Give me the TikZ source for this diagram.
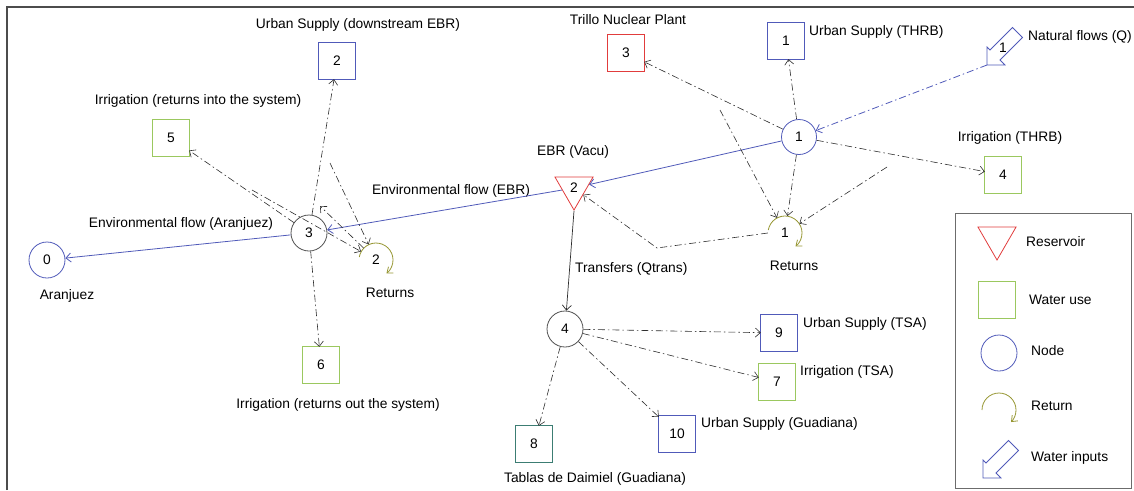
\documentclass[tikz,border=0pt]{standalone}
\usepackage{fontspec}
\setmainfont{Liberation Sans}
\usetikzlibrary{arrows.meta,shapes.geometric}
\definecolor{wblue}{RGB}{80,90,185}
\definecolor{wred}{RGB}{225,60,60}
\definecolor{wgreen}{RGB}{155,200,95}
\definecolor{wolive}{RGB}{150,150,50}
\definecolor{wteal}{RGB}{60,125,115}
\definecolor{wink}{RGB}{45,45,45}
\definecolor{wgrey}{RGB}{80,80,80}
\tikzset{
	use/.style={minimum size=36pt, inner sep=0pt},
	usebox/.style={line width=1pt},
	jn/.style={circle, draw=#1, minimum size=36pt, inner sep=0pt, line width=0.8pt},
	res/.style={regular polygon, regular polygon sides=3, shape border rotate=180, draw=wred, minimum size=44pt, inner sep=0pt, line width=0.8pt},
	retn/.style={circle, minimum size=34pt, inner sep=0pt},
	lbl/.style={inner sep=0pt},
	flow/.style={wink, line width=0.6pt, dash pattern=on 7pt off 3pt on 1.5pt off 3pt, -{Straight Barb[length=5pt,width=9pt]}},
	env/.style={wblue, line width=0.8pt, -{Straight Barb[length=5pt,width=9pt]}},
	ret/.style={wolive, line width=0.8pt, -{Straight Barb[length=5pt,width=8pt]}},
	inflow/.style={wblue, line width=0.8pt, line join=miter}
}
\newcommand{\inarrow}[1]{\draw[inflow] (#1) -- ++(0,-18) -- ++(3,3) -- ++(22.5,-22.5) -- ++(10,10) -- ++(-22.5,22.5) -- ++(5,5) -- cycle;}
\begin{document}
\begin{tikzpicture}[x=1pt, y=-1pt, font=\fontsize{13.8}{16}\selectfont]
	\def \rr{17}
	\useasboundingbox (0,0) rectangle (1134,490);
	\draw[wink!85, line width=1.6pt] (7,490) -- (7,7) -- (1134,7);
	% junctions
	\node[jn=wblue] (n0) at (47,260) {0};
	\node[jn=wgrey] (n3) at (309,233) {3};
	\node[jn=wblue, minimum size=35pt] (n1) at (799,137) {1};
	\node[jn=wgrey] (n4) at (565,329) {4};
	\node[res] (ebr) at (574,188) {2};
	% water uses
	\node[use] (u2) at (337,61) {2};
	\node[use] (i5) at (171,138) {5};
	\node[use] (i6) at (321,365) {6};
	\node[use] (t3) at (626,53) {3};
	\node[use] (u1) at (786,41) {1};
	\node[use] (i4) at (1003,175) {4};
	\node[use] (u9) at (779,333) {9};
	\node[use] (i7) at (777,382) {7};
	\node[use] (u10) at (677,434) {10};
	\node[use] (t8) at (534,444) {8};
	\foreach \n/\c in {u2/wblue,i5/wgreen,i6/wgreen,t3/wred,u1/wblue,i4/wgreen,u9/wblue,i7/wgreen,u10/wblue,t8/wteal}{\draw[usebox, \c] (\n.south west) rectangle (\n.north east);};
	% returns
	\node[retn] (r1) at (785,233) {1};
	\node[retn] (r2) at (376,260) {2};
	\draw[ret] ([shift={(190:\rr)}]r1.center) arc[start angle=190, end angle=412, radius=\rr];
	\draw[ret] ([shift={(190:\rr)}]r2.center) arc[start angle=190, end angle=412, radius=\rr];
	% natural flows
	\coordinate (qtip) at (987,65);
	\inarrow{qtip}
	\node[lbl] (q) at (1003,48) {1};
	% labels
	\node[lbl] (u2l) at (358,25) {Urban Supply (downstream EBR)};
	\node[lbl] (i5l) at (198,101) {Irrigation (returns into the system)};
	\node[lbl] (n3l) at (181,224) {Environmental flow (Aranjuez)};
	\node[lbl] (n0l) at (67,296) {Aranjuez};
	\node[lbl] (r2l) at (390,293) {Returns};
	\node[lbl] (i6l) at (338,405) {Irrigation (returns out the system)};
	\node[lbl] (ebrf) at (451,191) {Environmental flow (EBR)};
	\node[lbl] (ebrl) at (573,152) {EBR (Vacu)};
	\node[lbl] (t3l) at (628,20) {Trillo Nuclear Plant};
	\node[lbl, anchor=west] (u1l) at (809,32) {Urban Supply (THRB)};
	\node[lbl, anchor=west] (ql) at (1028,37) {Natural flows (Q)};
	\node[lbl] (i4l) at (1010,138) {Irrigation (THRB)};
	\node[lbl] (r1l) at (794,266) {Returns};
	\node[lbl, anchor=west] (trl) at (575,269) {Transfers (Qtrans)};
	\node[lbl, anchor=west] (u9l) at (803,324) {Urban Supply (TSA)};
	\node[lbl, anchor=west] (i7l) at (800,372) {Irrigation (TSA)};
	\node[lbl, anchor=west] (u10l) at (701,424) {Urban Supply (Guadiana)};
	\node[lbl] (t8l) at (595,479) {Tablas de Daimiel (Guadiana)};
	% environmental flows
	\draw[env] (n1) -- (ebr);
	\draw[env] (ebr) -- (n3);
	\draw[env] (n3) -- (n0);
	\draw[env, dash pattern=on 7pt off 3pt on 1.5pt off 3pt] (qtip) -- (n1);
	\draw[wink, line width=0.7pt, -{Straight Barb[length=5pt,width=9pt]}] (ebr.south) -- (n4);
	% supplies
	\foreach \t in {u1,t3,i4,r1}{\draw[flow] (n1) -- (\t);};
	\foreach \t in {u2,i5,i6}{\draw[flow] (n3) -- (\t);};
	\foreach \t in {u9,i7,u10,t8}{\draw[flow] (n4) -- (\t);};
	% return flows
	\coordinate (tq) at (720,110);
	\coordinate (iq) at (887,167);
	\coordinate (rbend) at (657,248);
	\draw[flow] (tq) -- (r1);
	\draw[flow] (iq) -- (r1);
	\draw[flow] (r1.west) -- (rbend) -- (ebr);
	\coordinate (uq) at (330,163);
	\coordinate (iq5) at (252,190);
	\coordinate (rq) at (320,206);
	\draw[flow] (uq) -- (r2);
	\draw[flow] (iq5) -- (r2);
	\draw[flow] (r2) -- (rq);
	% legend
	\draw[wink!70, line width=1pt] (955,213) rectangle (1131,488);
	\node[res] (lres) at (997,238) {};
	\node[lbl, anchor=west] (lresl) at (1026,242) {Reservoir};
	\node[use] (luse) at (997,300) {};
	\draw[usebox, wgreen] (luse.south west) rectangle (luse.north east);
	\node[lbl, anchor=west] (lusel) at (1029,300) {Water use};
	\node[jn=wblue] (lnode) at (999,353) {};
	\node[lbl, anchor=west] (lnodel) at (1031,351) {Node};
	\node[retn] (lret) at (999,410) {};
	\draw[ret] ([shift={(180:\rr)}]lret.center) arc[start angle=180, end angle=405, radius=\rr];
	\node[lbl, anchor=west] (lretl) at (1031,406) {Return};
	\coordinate (ltip) at (983,478);
	\inarrow{ltip}
	\node[lbl, anchor=west] (linl) at (1031,458) {Water inputs};
\end{tikzpicture}
\end{document}
